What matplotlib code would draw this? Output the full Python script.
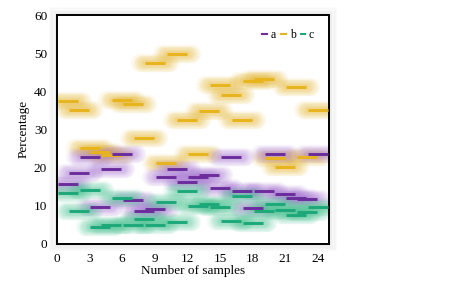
import matplotlib
matplotlib.use("Agg")
import matplotlib.pyplot as plt
from matplotlib.markers import MarkerStyle
from matplotlib.patches import FancyBboxPatch
import numpy as np

plt.rcParams['font.family'] = ['Liberation Serif', 'DejaVu Serif']

samples = list(range(1, 25))
a = [15.7, 18.5, 22.7, 9.5, 19.7, 23.6, 11.5, 8.7, 9.1, 17.5, 19.5, 16.3,
     17.6, 17.9, 14.6, 22.8, 13.7, 9.3, 13.9, 23.6, 13.1, 12.0, 11.7, 23.5]
b = [37.4, 35.1, 25.2, 24.0, 23.2, 37.8, 36.6, 27.8, 47.5, 21.2, 49.7, 32.4,
     23.6, 34.7, 41.7, 38.9, 32.5, 42.6, 43.3, 22.5, 20.2, 41.0, 22.7, 35.1]
c = [13.3, 8.7, 14.2, 4.4, 5.0, 11.9, 4.8, 6.5, 4.8, 10.9, 5.6, 13.8,
     10.0, 10.3, 9.7, 5.9, 12.4, 5.3, 8.5, 10.3, 8.9, 7.4, 8.4, 9.5]
series_names = ['a', 'b', 'c']
colors = ['#6B2D9B', '#E8B41E', '#1DA87A']
glow_colors = ['#A978D6', '#E8B830', '#4CC695']
xticks = [0, 3, 6, 9, 12, 15, 18, 21, 24]
yticks = [0, 10, 20, 30, 40, 50, 60]

fig = plt.figure(figsize=(4.74, 2.84), dpi=100)
ax = fig.add_axes([0.120, 0.142, 0.574, 0.805])

# frame shadow
for k in range(6):
    pad = 0.004 * (k + 1)
    sh = FancyBboxPatch((0.120 - pad * 0.6, 0.142 - pad), 0.574 + pad * 1.2, 0.805 + pad * 2,
                        boxstyle="square,pad=0", transform=fig.transFigure,
                        facecolor='none', edgecolor='#808080', lw=1.2, alpha=0.10 - k * 0.014,
                        zorder=-5)
    fig.patches.append(sh)

dash = MarkerStyle('_', capstyle='round')
dash_b = MarkerStyle('_', capstyle='butt')
for vals, gcol in zip([b, a, c], [glow_colors[1], glow_colors[0], glow_colors[2]]):
    for k in range(10, 0, -1):
        ax.plot(samples, vals, linestyle='none', marker=dash, markersize=13 + k * 0.8,
                markeredgewidth=1.8 + k * 1.15, color=gcol, alpha=0.075, zorder=2)
for vals, col in zip([b, a, c], [colors[1], colors[0], colors[2]]):
    ax.plot(samples, vals, linestyle='none', marker=dash_b, markersize=14.5,
            markeredgewidth=2.1, color=col, zorder=3)

# legend handles
handles = [plt.Line2D([], [], color=colors[i], lw=1.5) for i in range(3)]
ax.legend(handles, series_names, loc='upper right', ncol=3, frameon=False,
          fontsize=8.5, handlelength=0.4, handletextpad=0.3, columnspacing=0.45,
          bbox_to_anchor=(0.985, 0.985))

ax.set_xlim(0, 25)
ax.set_ylim(0, 60)
ax.set_xticks(xticks)
ax.set_yticks(yticks)
ax.tick_params(axis='y', length=0, labelsize=9.5, pad=7)
ax.tick_params(axis='x', length=0, labelsize=9.5, pad=6.5)
for s in ax.spines.values():
    s.set_linewidth(1.4)
    s.set_color('black')
ax.set_xlabel('Number of samples', fontsize=9.5, labelpad=0)
ax.set_ylabel('Percentage', fontsize=9.5, labelpad=3)

fig.savefig('out.png', dpi=100)
